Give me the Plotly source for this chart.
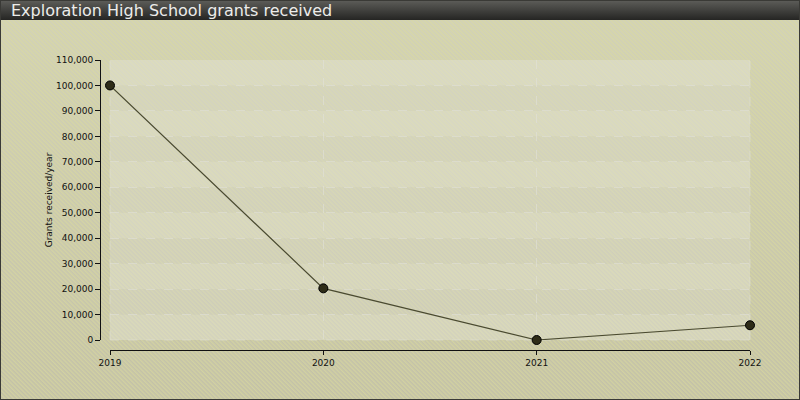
import base64
import plotly.graph_objects as go

years = [2019, 2020, 2021, 2022]
grants = [100000, 20300, 0, 5800]
y_ticks = list(range(0, 110001, 10000))
y_labels = [f"{v:,}" for v in y_ticks]

W, H = 800, 400
L, R, T, B = 100, 50, 60, 50
pw, ph = W - L - R, H - T - B

svg = f'''<svg xmlns="http://www.w3.org/2000/svg" width="{W}" height="{H}">
<defs>
<linearGradient id="bg" x1="0" y1="0" x2="0" y2="1">
<stop offset="0" stop-color="#d2d2ba"/><stop offset="1" stop-color="#c2c0a8"/></linearGradient>
<linearGradient id="tb" x1="0" y1="0" x2="0" y2="1">
<stop offset="0" stop-color="#5e5e5a"/><stop offset="1" stop-color="#252523"/></linearGradient>
<pattern id="st" width="3" height="3" patternUnits="userSpaceOnUse" patternTransform="rotate(-45)">
<rect width="1.5" height="3" fill="#dcdc9c" fill-opacity="0.6"/></pattern>
</defs>
<rect width="{W}" height="{H}" fill="url(#bg)"/>
<rect width="{W}" height="{H}" fill="url(#st)"/>
<rect width="{W}" height="20" fill="url(#tb)"/>
<rect x="0.5" y="0.5" width="{W-1}" height="{H-1}" fill="none" stroke="#3a3a36" stroke-width="1"/>
</svg>'''
src = "data:image/svg+xml;base64," + base64.b64encode(svg.encode()).decode()

fig = go.Figure()
fig.add_trace(go.Scatter(
    x=years, y=grants, mode="lines+markers",
    line=dict(color="#4a4a30", width=1.2),
    marker=dict(size=9, color="#2e2c18", line=dict(color="#000000", width=1)),
    hoverinfo="x+y", showlegend=False, cliponaxis=False,
))

grid_col = "rgba(228,228,222,0.5)"
shapes = []
shapes.append(dict(type="rect", xref="x domain", yref="y domain", x0=0, x1=1, y0=0, y1=1,
                   fillcolor="rgba(225,225,215,0.35)", line_width=0, layer="below"))
for i in range(len(y_ticks) - 1):
    shapes.append(dict(type="rect", xref="x domain", yref="y", x0=0, x1=1,
                       y0=y_ticks[i], y1=y_ticks[i + 1],
                       fillcolor="rgba(240,240,225,0.12)" if i % 2 == 0 else "rgba(190,190,175,0.08)",
                       line_width=0, layer="below"))
for xv in (0, 1):
    shapes.append(dict(type="line", xref="x domain", yref="y domain", x0=xv, x1=xv, y0=0, y1=1,
                       line=dict(color=grid_col, width=1, dash="dash"), layer="below"))
shapes.append(dict(type="line", xref="x domain", yref="y domain", x0=0, x1=1, y0=0, y1=0,
                   line=dict(color=grid_col, width=1, dash="dash"), layer="below"))

fig.update_layout(
    width=W, height=H,
    margin=dict(l=L, r=R, t=T, b=B),
    paper_bgcolor="#cdcbb3",
    plot_bgcolor="rgba(0,0,0,0)",
    font=dict(family="DejaVu Sans, Verdana, sans-serif", color="#111111", size=10),
    images=[dict(source=src, xref="paper", yref="paper", x=-L / pw, y=1 + T / ph,
                 sizex=W / pw, sizey=H / ph, sizing="stretch", layer="below",
                 xanchor="left", yanchor="top")],
    shapes=shapes,
    annotations=[dict(text="Exploration High School grants received", xref="paper", yref="paper",
                      x=-L / pw + 9 / pw, y=1 + T / ph - 10 / ph, xanchor="left", yanchor="middle",
                      showarrow=False, font=dict(size=16, color="#ececea",
                                                 family="DejaVu Sans, Verdana, sans-serif"))],
    xaxis=dict(
        domain=[10 / pw, 1], range=[years[0], years[-1]],
        tickmode="array", tickvals=years, ticktext=[str(y) for y in years],
        anchor="free", position=0,
        showline=True, linecolor="#111111", linewidth=1,
        ticks="outside", ticklen=4, tickcolor="#111111",
        showgrid=True, gridcolor=grid_col, griddash="dash", gridwidth=1,
        zeroline=False, tickfont=dict(size=9),
    ),
    yaxis=dict(
        domain=[10 / ph, 1], range=[0, 110000],
        tickmode="array", tickvals=y_ticks, ticktext=y_labels,
        anchor="free", position=0,
        showline=True, linecolor="#111111", linewidth=1,
        ticks="outside", ticklen=5, tickcolor="#111111",
        showgrid=True, gridcolor=grid_col, griddash="dash", gridwidth=1,
        zeroline=False, tickfont=dict(size=9),
        title=dict(text="Grants received/year", font=dict(size=9), standoff=0),
    ),
)
fig.write_html("out.html", config={"displayModeBar": False},
               post_script="document.body.style.margin='0';")
